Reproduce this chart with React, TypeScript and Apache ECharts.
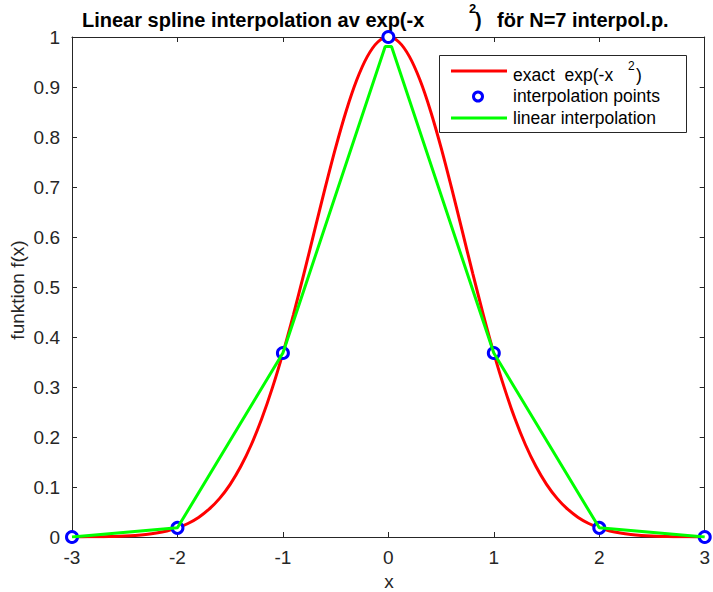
import React, { useEffect, useRef } from "react";
import * as echarts from "echarts";

const redX = [
  -3.0, -2.9, -2.8, -2.7, -2.6, -2.5, -2.4, -2.3, -2.2, -2.1,
  -2.0, -1.9, -1.8, -1.7, -1.6, -1.5, -1.4, -1.3, -1.2, -1.1,
  -1.0, -0.9, -0.8, -0.7, -0.6, -0.5, -0.4, -0.3, -0.2, -0.1,
  0.0, 0.1, 0.2, 0.3, 0.4, 0.5, 0.6, 0.7, 0.8, 0.9,
  1.0, 1.1, 1.2, 1.3, 1.4, 1.5, 1.6, 1.7, 1.8, 1.9,
  2.0, 2.1, 2.2, 2.3, 2.4, 2.5, 2.6, 2.7, 2.8, 2.9, 3.0,
];
const redY = [
  0.00012, 0.00022, 0.00039, 0.00068, 0.00116, 0.00193, 0.00315, 0.00504, 0.00791, 0.01216,
  0.01832, 0.02705, 0.03916, 0.05558, 0.0773, 0.1054, 0.14086, 0.18452, 0.23693, 0.2982,
  0.36788, 0.44486, 0.52729, 0.61263, 0.69768, 0.7788, 0.85214, 0.91393, 0.96079, 0.99005,
  1.0, 0.99005, 0.96079, 0.91393, 0.85214, 0.7788, 0.69768, 0.61263, 0.52729, 0.44486,
  0.36788, 0.2982, 0.23693, 0.18452, 0.14086, 0.1054, 0.0773, 0.05558, 0.03916, 0.02705,
  0.01832, 0.01216, 0.00791, 0.00504, 0.00315, 0.00193, 0.00116, 0.00068, 0.00039, 0.00022, 0.00012,
];
const nodeX = [-3, -2, -1, 0, 1, 2, 3];
const nodeY = [0.0001, 0.0183, 0.3679, 1.0, 0.3679, 0.0183, 0.0001];
const linX = [-3, -2, -1, -0.03, 0.03, 1, 2, 3];
const linY = [0.0001, 0.0183, 0.3679, 0.981, 0.981, 0.3679, 0.0183, 0.0001];

const titleMain = "Linear spline interpolation av exp(-x";
const titleSup = "2";
const titleClose = ")";
const titleEnd = "för N=7 interpol.p.";
const legendNames = ["exact  exp(-x", "interpolation points", "linear interpolation"];
const xName = "x";
const yName = "funktion f(x)";

const FONT = "'Liberation Sans', Arial, Helvetica, sans-serif";
const AX = "#262626";

export default function App() {
  const ref = useRef<HTMLDivElement>(null);
  useEffect(() => {
    const chart = echarts.init(ref.current!, null, { renderer: "svg" });
    const pair = (xs: number[], ys: number[]) => xs.map((x, i) => [x, ys[i]]);
    const axisCommon = {
      type: "value" as const,
      axisLine: { show: true, onZero: false, lineStyle: { color: AX, width: 1 } },
      axisTick: { show: true, inside: true, length: 5, lineStyle: { color: AX } },
      splitLine: { show: false },
    };
    const tickFont = { color: AX, fontSize: 19, fontFamily: FONT };
    chart.setOption({
      animation: false,
      backgroundColor: "#ffffff",
      grid: { left: 72, right: 7, top: 37, bottom: 55, containLabel: false },
      xAxis: [
        { ...axisCommon, position: "bottom", min: -3, max: 3, interval: 1, axisLabel: { ...tickFont, margin: 11 } },
        { ...axisCommon, position: "top", min: -3, max: 3, interval: 1, axisLabel: { show: false } },
      ],
      yAxis: [
        { ...axisCommon, position: "left", min: 0, max: 1, interval: 0.1, axisLabel: { ...tickFont, margin: 12 } },
        { ...axisCommon, position: "right", min: 0, max: 1, interval: 0.1, axisLabel: { show: false } },
      ],
      series: [
        {
          type: "line",
          data: pair(redX, redY),
          smooth: 0.3,
          showSymbol: false,
          lineStyle: { color: "#ff0000", width: 3 },
          z: 2,
        },
        {
          type: "scatter",
          data: pair(nodeX, nodeY),
          symbol: "circle",
          symbolSize: 11,
          itemStyle: { color: "#ffffff", opacity: 1, borderColor: "#0000ff", borderWidth: 3 },
          z: 3,
        },
        {
          type: "line",
          data: pair(linX, linY),
          showSymbol: false,
          lineStyle: { color: "#00ff00", width: 3 },
          z: 4,
        },
      ],
      graphic: [
        { type: "text", x: 82, y: 20, style: { text: titleMain, font: `bold 20px ${FONT}`, fill: "#000", verticalAlign: "middle" } },
        { type: "text", x: 469, y: 8, style: { text: titleSup, font: `bold 13px ${FONT}`, fill: "#000", verticalAlign: "middle" } },
        { type: "text", x: 475, y: 20, style: { text: titleClose, font: `bold 20px ${FONT}`, fill: "#000", verticalAlign: "middle" } },
        { type: "text", x: 497, y: 20, style: { text: titleEnd, font: `bold 20px ${FONT}`, fill: "#000", verticalAlign: "middle" } },
        { type: "text", x: 389, y: 581, style: { text: xName, font: `19px ${FONT}`, fill: AX, align: "center", verticalAlign: "middle" } },
        {
          type: "text",
          x: 17,
          y: 290,
          rotation: Math.PI / 2,
          style: { text: yName, font: `19px ${FONT}`, fill: AX, align: "center", verticalAlign: "middle" },
        },
        {
          type: "group",
          z: 100,
          children: [
            { type: "rect", shape: { x: 439.5, y: 55.5, width: 247, height: 77 }, style: { fill: "#ffffff", stroke: AX, lineWidth: 1 } },
            { type: "line", shape: { x1: 451, y1: 71, x2: 507, y2: 71 }, style: { stroke: "#ff0000", lineWidth: 3 } },
            { type: "circle", shape: { cx: 478, cy: 96.5, r: 4.5 }, style: { fill: "#ffffff", stroke: "#0000ff", lineWidth: 3 } },
            { type: "line", shape: { x1: 451, y1: 118, x2: 507, y2: 118 }, style: { stroke: "#00ff00", lineWidth: 3 } },
            { type: "text", x: 513, y: 75, style: { text: legendNames[0], font: `17.5px ${FONT}`, fill: "#000", verticalAlign: "middle" } },
            { type: "text", x: 628, y: 66, style: { text: "2", font: `12px ${FONT}`, fill: "#000", verticalAlign: "middle" } },
            { type: "text", x: 636, y: 75, style: { text: ")", font: `17.5px ${FONT}`, fill: "#000", verticalAlign: "middle" } },
            { type: "text", x: 513, y: 96, style: { text: legendNames[1], font: `17.5px ${FONT}`, fill: "#000", verticalAlign: "middle" } },
            { type: "text", x: 513, y: 118, style: { text: legendNames[2], font: `17.5px ${FONT}`, fill: "#000", verticalAlign: "middle" } },
          ],
        },
      ],
    });
    return () => chart.dispose();
  }, []);
  return <div ref={ref} style={{ width: 713, height: 592, position: "absolute", left: 0, top: 0 }} />;
}
